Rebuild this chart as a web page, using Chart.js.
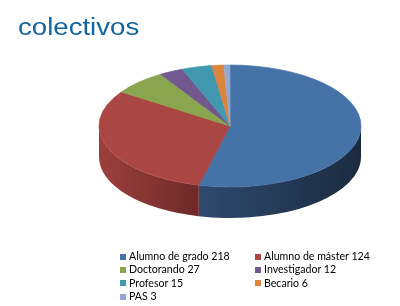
<!DOCTYPE html>
<html>
<head>
<meta charset="utf-8">
<script src="https://cdn.jsdelivr.net/npm/chart.js@4"></script>
<style>
  html, body { margin: 0; padding: 0; background: #ffffff; }
  #wrap { position: relative; width: 400px; height: 306px; overflow: hidden; }
  #c { position: absolute; left: 0; top: 0; }
  #title { position: absolute; left: 18px; top: 16px; font-family: "Liberation Sans", Arial, sans-serif; font-size: 23px; line-height: 23px; color: #12659e; transform: scaleX(1.2); transform-origin: left top; white-space: nowrap; }
  #legend { position: absolute; left: 120px; top: 250px; display: grid; grid-template-columns: 135px 140px; font-family: Lato, "Open Sans", sans-serif; font-size: 10.6px; line-height: 13.3px; color: #000000; }
  .item { white-space: nowrap; display: flex; align-items: center; }
  .box { width: 6px; height: 6px; margin-right: 3px; flex: none; }
</style>
</head>
<body>
<div id="wrap">
  <canvas id="c" width="400" height="306"></canvas>
  <div id="title">colectivos</div>
  <div id="legend"></div>
</div>
<script>
const categories = ['Alumno de grado', 'Alumno de máster', 'Doctorando', 'Investigador', 'Profesor', 'Becario', 'PAS'];
const values = [218, 124, 27, 12, 15, 6, 3];
const topColors = ['#4572A7', '#AA4643', '#89A54E', '#71588F', '#4198AF', '#DB843D', '#93A9CF'];
const sideLight = ['#2e4a6e', '#9c3f3c', '#5f7636', '#4e3d64', '#2d6a7a', '#99602b', '#667690'];
const sideDark  = ['#1b2a40', '#6d2a29', '#4a5c2a', '#3c2f4e', '#23525f', '#774a21', '#505c70'];

const GEOM = { cx: 230, cy: 126, rx: 131, ry: 61, depth: 31 };

// legend (HTML)
const legendEl = document.getElementById('legend');
categories.forEach((cat, i) => {
  const it = document.createElement('div');
  it.className = 'item';
  const b = document.createElement('span');
  b.className = 'box';
  b.style.background = topColors[i];
  const t = document.createElement('span');
  t.textContent = cat + ' ' + values[i];
  it.appendChild(b); it.appendChild(t);
  legendEl.appendChild(it);
});

const pie3d = {
  id: 'pie3d',
  beforeDatasetsDraw(chart) {
    const meta = chart.getDatasetMeta(0);
    const ctx = chart.ctx;
    const arcs = meta.data;
    if (!arcs.length) return;
    const R = arcs[0].outerRadius, ox = arcs[0].x, oy = arcs[0].y;
    const { cx, cy, rx, ry, depth } = GEOM;
    arcs.forEach((arc, i) => {
      const s1 = Math.max(arc.startAngle, 0);
      const e1 = Math.min(arc.endAngle, Math.PI);
      if (e1 <= s1) return;
      const xL = cx + rx * Math.cos(e1), xR = cx + rx * Math.cos(s1);
      const g = ctx.createLinearGradient(xL, 0, xR, 0);
      g.addColorStop(0, sideLight[i]);
      g.addColorStop(1, sideDark[i]);
      ctx.save();
      ctx.beginPath();
      ctx.ellipse(cx, cy, rx, ry, 0, s1, e1, false);
      ctx.ellipse(cx, cy + depth, rx, ry, 0, e1, s1, true);
      ctx.closePath();
      ctx.fillStyle = g;
      ctx.fill();
      ctx.restore();
    });
    ctx.save();
    ctx.translate(cx, cy);
    ctx.scale(rx / R, ry / R);
    ctx.translate(-ox, -oy);
  },
  afterDatasetsDraw(chart) {
    chart.ctx.restore();
  }
};

new Chart(document.getElementById('c'), {
  type: 'pie',
  data: {
    labels: categories,
    datasets: [{
      data: values,
      backgroundColor: topColors,
      borderColor: topColors,
      borderWidth: 1
    }]
  },
  options: {
    responsive: false,
    devicePixelRatio: 1,
    animation: false,
    events: [],
    layout: { padding: 10 },
    plugins: {
      legend: { display: false },
      title: { display: false },
      tooltip: { enabled: false }
    }
  },
  plugins: [pie3d]
});
</script>
</body>
</html>
